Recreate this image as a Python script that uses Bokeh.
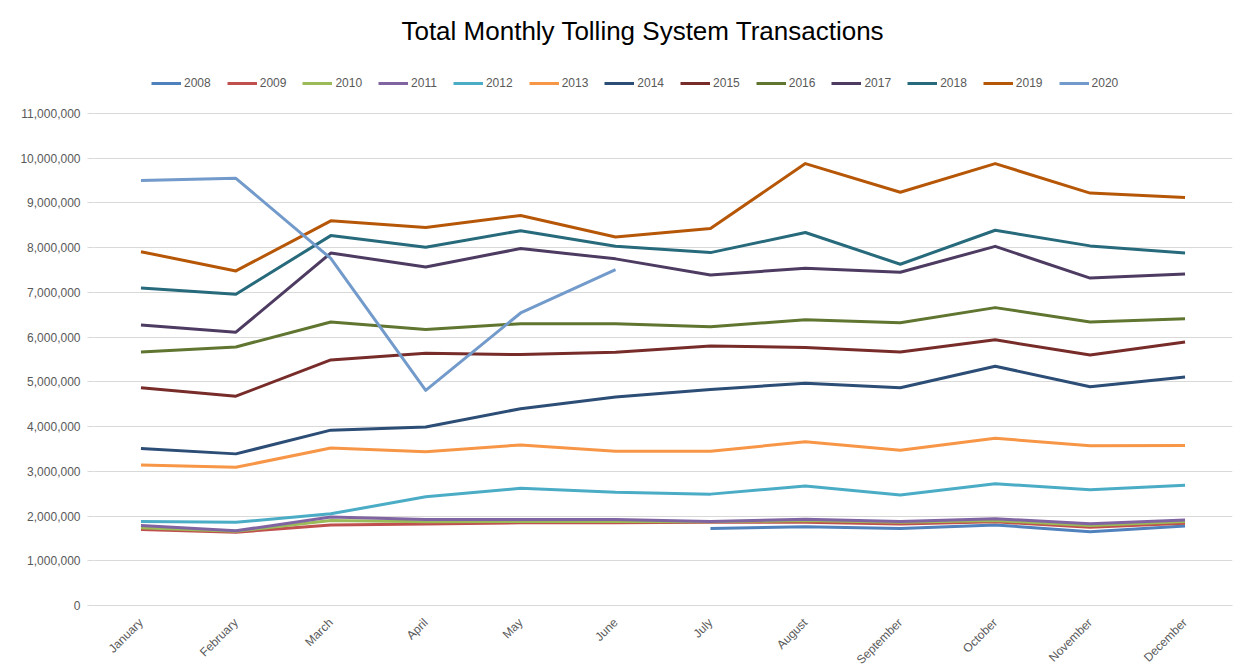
import math
from bokeh.plotting import figure
from bokeh.models import (FactorRange, Range1d, FixedTicker, NumeralTickFormatter,
                          Legend, LegendItem, Label)
from bokeh.embed import file_html
from bokeh.resources import INLINE

months = ["January", "February", "March", "April", "May", "June", "July",
          "August", "September", "October", "November", "December"]

y2008 = [None, None, None, None, None, None, 1.72e6, 1.76e6, 1.72e6, 1.80e6, 1.65e6, 1.78e6]
y2009 = [1.70e6, 1.64e6, 1.80e6, 1.82e6, 1.85e6, 1.85e6, 1.86e6, 1.86e6, 1.82e6, 1.87e6, 1.75e6, 1.84e6]
y2010 = [1.74e6, 1.66e6, 1.90e6, 1.87e6, 1.88e6, 1.88e6, 1.87e6, 1.90e6, 1.86e6, 1.90e6, 1.79e6, 1.88e6]
y2011 = [1.79e6, 1.67e6, 1.98e6, 1.92e6, 1.92e6, 1.92e6, 1.88e6, 1.93e6, 1.88e6, 1.94e6, 1.83e6, 1.91e6]
y2012 = [1.88e6, 1.86e6, 2.05e6, 2.43e6, 2.62e6, 2.53e6, 2.49e6, 2.67e6, 2.47e6, 2.72e6, 2.59e6, 2.69e6]
y2013 = [3.14e6, 3.09e6, 3.52e6, 3.44e6, 3.59e6, 3.45e6, 3.45e6, 3.66e6, 3.47e6, 3.74e6, 3.57e6, 3.58e6]
y2014 = [3.51e6, 3.39e6, 3.92e6, 3.99e6, 4.40e6, 4.66e6, 4.83e6, 4.97e6, 4.87e6, 5.35e6, 4.89e6, 5.11e6]
y2015 = [4.87e6, 4.68e6, 5.49e6, 5.64e6, 5.61e6, 5.66e6, 5.80e6, 5.77e6, 5.67e6, 5.94e6, 5.60e6, 5.89e6]
y2016 = [5.67e6, 5.78e6, 6.34e6, 6.17e6, 6.30e6, 6.30e6, 6.23e6, 6.39e6, 6.32e6, 6.66e6, 6.34e6, 6.41e6]
y2017 = [6.27e6, 6.11e6, 7.88e6, 7.57e6, 7.98e6, 7.75e6, 7.39e6, 7.54e6, 7.45e6, 8.03e6, 7.32e6, 7.41e6]
y2018 = [7.10e6, 6.96e6, 8.27e6, 8.01e6, 8.38e6, 8.03e6, 7.89e6, 8.34e6, 7.63e6, 8.39e6, 8.04e6, 7.88e6]
y2019 = [7.91e6, 7.48e6, 8.60e6, 8.45e6, 8.72e6, 8.24e6, 8.43e6, 9.88e6, 9.24e6, 9.88e6, 9.22e6, 9.12e6]
y2020 = [9.50e6, 9.55e6, 7.76e6, 4.81e6, 6.54e6, 7.51e6, None, None, None, None, None, None]

years = ["2008", "2009", "2010", "2011", "2012", "2013", "2014",
         "2015", "2016", "2017", "2018", "2019", "2020"]
series = [y2008, y2009, y2010, y2011, y2012, y2013, y2014,
          y2015, y2016, y2017, y2018, y2019, y2020]
colors = ["#4F81BD", "#C0504D", "#9BBB59", "#8064A2", "#4BACC6", "#F79646", "#2C4D75",
          "#772C2A", "#5F7530", "#4D3B62", "#276A7C", "#B65708", "#729ACA"]

y_ticks = [i * 1_000_000 for i in range(12)]

px_per_unit = 492 / 11e6  # frame pixels per value unit
frame_h = 600

p = figure(frame_width=1139, frame_height=frame_h,
           x_range=FactorRange(factors=months, range_padding=0),
           y_range=Range1d(0, frame_h / px_per_unit),
           output_backend="svg", toolbar_location=None,
           min_border_left=93, min_border_right=8, min_border_top=5, min_border_bottom=62)
p.outline_line_color = None
p.background_fill_color = "white"
p.border_fill_color = "white"

p.xgrid.grid_line_color = None
p.ygrid.grid_line_color = "#d9d9d9"
p.ygrid.grid_line_width = 1

font = "Liberation Sans"

yax = p.yaxis[0]
yax.ticker = FixedTicker(ticks=y_ticks)
yax.formatter = NumeralTickFormatter(format="0,0")
yax.axis_line_color = None
yax.major_tick_in = 0
yax.major_tick_out = 6
yax.major_tick_line_color = "#d9d9d9"
yax.minor_tick_line_color = None
yax.major_label_standoff = 7
yax.major_label_text_font = font
yax.major_label_text_font_size = "12px"
yax.major_label_text_color = "#595959"

xax = p.xaxis[0]
xax.axis_line_color = "#d9d9d9"
xax.axis_line_width = 1
xax.major_tick_line_color = None
xax.minor_tick_line_color = None
xax.major_label_orientation = math.pi / 4
xax.major_label_standoff = 9
xax.major_label_text_font = font
xax.major_label_text_font_size = "12px"
xax.major_label_text_color = "#595959"

items = []
for yr, vals, col in zip(years, series, colors):
    xs = [m for m, v in zip(months, vals) if v is not None]
    ys = [v for v in vals if v is not None]
    r = p.line(xs, ys, line_color=col, line_width=3, line_join="round")
    items.append(LegendItem(label=yr, renderers=[r]))

legend = Legend(items=items, orientation="horizontal", location=(58, 512),
                padding=0, margin=0, spacing=16, glyph_width=30, glyph_height=20,
                label_standoff=3, label_height=20,
                label_text_font=font, label_text_font_size="12px",
                label_text_color="#595959",
                border_line_color=None, background_fill_alpha=0)
p.add_layout(legend, "center")

title = Label(x=549.5, y=575, x_units="screen", y_units="screen",
              text="Total Monthly Tolling System Transactions",
              text_font=font, text_font_size="26px", text_color="black",
              text_align="center", text_baseline="alphabetic")
p.add_layout(title)

open("out.html", "w").write(file_html(p, INLINE))
